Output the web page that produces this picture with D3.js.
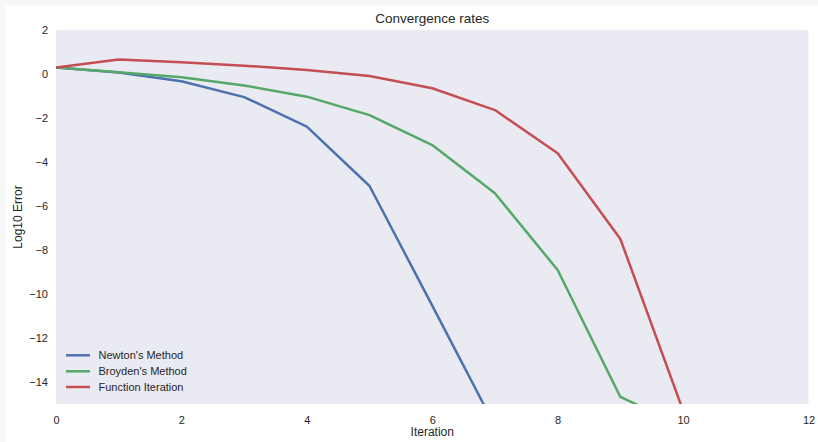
<!DOCTYPE html>
<html>
<head>
<meta charset="utf-8">
<script src="https://cdn.jsdelivr.net/npm/d3@7"></script>
<style>
  html, body { margin: 0; padding: 0; background: #f7f7f7; }
  svg { display: block; }
  text { font-family: "Liberation Sans", Arial, sans-serif; fill: #262626; }
</style>
</head>
<body>
<svg id="chart" width="818" height="442"></svg>
<script>
const iterations = [0, 1, 2, 3, 4, 5, 6, 7, 8, 9, 10];
const newton   = [0.3, 0.07, -0.33, -1.05, -2.39, -5.09, -10.53, -16.0];
const broyden  = [0.3, 0.08, -0.15, -0.52, -1.03, -1.87, -3.23, -5.42, -8.91, -14.68, -16.0];
const funcIter = [0.3, 0.66, 0.53, 0.38, 0.18, -0.09, -0.65, -1.64, -3.6, -7.5, -15.3];
const seriesNames = ["Newton's Method", "Broyden's Method", "Function Iteration"];
const seriesColors = ["#4C72B0", "#55A868", "#C44E52"];
const xTicks = [0, 2, 4, 6, 8, 10, 12];
const yTicks = [2, 0, -2, -4, -6, -8, -10, -12, -14];

const svg = d3.select("#chart");
svg.append("rect").attr("x", 5).attr("y", 5).attr("width", 813).attr("height", 437).attr("fill", "#ffffff");

const L = 56, R = 808.5, T = 30, B = 404;
const x = d3.scaleLinear().domain([0, 12]).range([L, R]);
const y = d3.scaleLinear().domain([-15, 2]).range([B, T]);

svg.append("rect").attr("x", L).attr("y", T).attr("width", R - L).attr("height", B - T).attr("fill", "#EAEAF2");

const fmt = d => (d < 0 ? "\u2212" + Math.abs(d) : String(d));

const xAxis = svg.append("g").attr("transform", `translate(0,${B})`)
  .call(d3.axisBottom(x).tickValues(xTicks).tickSize(0).tickPadding(12).tickFormat(fmt));
const yAxis = svg.append("g").attr("transform", `translate(${L},0)`)
  .call(d3.axisLeft(y).tickValues(yTicks).tickSize(0).tickPadding(8).tickFormat(fmt));
[xAxis, yAxis].forEach(a => {
  a.select(".domain").remove();
  a.selectAll("text").style("font-size", "11px").style("font-family", '"Liberation Sans", Arial, sans-serif').attr("fill", "#262626");
});

svg.append("defs").append("clipPath").attr("id", "clip")
  .append("rect").attr("x", L).attr("y", T).attr("width", R - L).attr("height", B - T);

const line = d3.line().x((d, i) => x(iterations[i])).y(d => y(d));
const allSeries = [newton, broyden, funcIter];
const g = svg.append("g").attr("clip-path", "url(#clip)");
allSeries.forEach((s, k) => {
  g.append("path").datum(s).attr("d", line).attr("fill", "none")
    .attr("stroke", seriesColors[k]).attr("stroke-width", 2.5)
    .attr("stroke-linejoin", "round").attr("stroke-linecap", "butt");
});

svg.append("text").attr("x", (L + R) / 2).attr("y", 23).attr("text-anchor", "middle")
  .style("font-size", "13.5px").text("Convergence rates");
svg.append("text").attr("x", (L + R) / 2).attr("y", 436).attr("text-anchor", "middle")
  .style("font-size", "12px").text("Iteration");
svg.append("text").attr("transform", `translate(22,${(T + B) / 2}) rotate(-90)`).attr("text-anchor", "middle")
  .style("font-size", "12px").text("Log10 Error");

const legY = [355.3, 371.3, 387];
seriesNames.forEach((n, k) => {
  svg.append("line").attr("x1", 66).attr("x2", 90).attr("y1", legY[k]).attr("y2", legY[k])
    .attr("stroke", seriesColors[k]).attr("stroke-width", 2.5);
  svg.append("text").attr("x", 98.5).attr("y", legY[k] + 4).style("font-size", "11px").text(n);
});
</script>
</body>
</html>
